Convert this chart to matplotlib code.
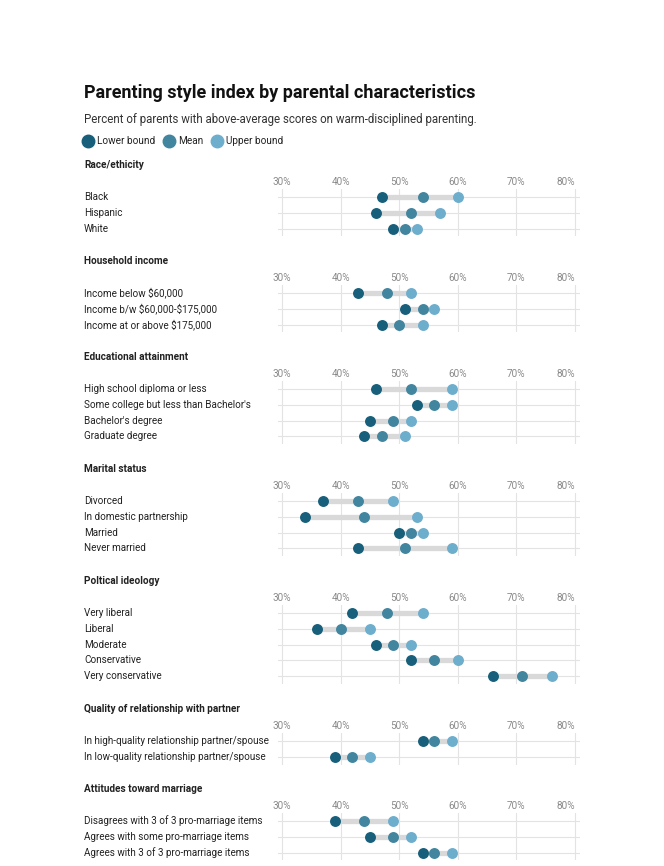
import matplotlib
matplotlib.use("Agg")
import matplotlib.pyplot as plt
import matplotlib.transforms as mtransforms
from matplotlib.lines import Line2D

plt.rcParams['font.family'] = ['Roboto', 'DejaVu Sans']

# ---- data (percent) ----
race_labels = ["Black", "Hispanic", "White"]
race_low = [47, 46, 49]
race_mean = [54, 52, 51]
race_high = [60, 57, 53]

income_labels = ["Income below $60,000", "Income b/w $60,000-$175,000",
                 "Income at or above $175,000"]
income_low = [43, 51, 47]
income_mean = [48, 54, 50]
income_high = [52, 56, 54]

edu_labels = ["High school diploma or less", "Some college but less than Bachelor's",
              "Bachelor's degree", "Graduate degree"]
edu_low = [46, 53, 45, 44]
edu_mean = [52, 56, 49, 47]
edu_high = [59, 59, 52, 51]

marital_labels = ["Divorced", "In domestic partnership", "Married", "Never married"]
marital_low = [37, 34, 50, 43]
marital_mean = [43, 44, 52, 51]
marital_high = [49, 53, 54, 59]

ideology_labels = ["Very liberal", "Liberal", "Moderate", "Conservative",
                   "Very conservative"]
ideology_low = [42, 36, 46, 52, 66]
ideology_mean = [48, 40, 49, 56, 71]
ideology_high = [54, 45, 52, 60, 76]

quality_labels = ["In high-quality relationship partner/spouse",
                  "In low-quality relationship partner/spouse"]
quality_low = [54, 39]
quality_mean = [56, 42]
quality_high = [59, 45]

attitude_labels = ["Disagrees with 3 of 3 pro-marriage items",
                   "Agrees with some pro-marriage items",
                   "Agrees with 3 of 3 pro-marriage items"]
attitude_low = [39, 45, 54]
attitude_mean = [44, 49, 56]
attitude_high = [49, 52, 59]

sections = [
    ("Race/ethicity", race_labels, race_low, race_mean, race_high),
    ("Household income", income_labels, income_low, income_mean, income_high),
    ("Educational attainment", edu_labels, edu_low, edu_mean, edu_high),
    ("Marital status", marital_labels, marital_low, marital_mean, marital_high),
    ("Poltical ideology", ideology_labels, ideology_low, ideology_mean, ideology_high),
    ("Quality of relationship with partner", quality_labels, quality_low,
     quality_mean, quality_high),
    ("Attitudes toward marriage", attitude_labels, attitude_low, attitude_mean,
     attitude_high),
]

xticks = [30, 40, 50, 60, 70, 80]
xtick_labels = ["30%", "40%", "50%", "60%", "70%", "80%"]

C_LOW = "#175f7a"
C_MEAN = "#41859f"
C_HIGH = "#6eaecd"
C_BAR = "#d9d9d9"
C_GRID = "#e3e3e3"
TXT = "#222222"

W, H = 664, 866
fig = plt.figure(figsize=(W / 100, H / 100), dpi=100)
fig.patch.set_facecolor("white")


def fx(px):
    return px / W


def fy(py):
    return 1 - py / H


LEFT = 84
fig.text(fx(LEFT), fy(93), "Parenting style index by parental characteristics",
         fontsize=13.0, fontweight="bold", color="#111111", va="center")
fig.text(fx(LEFT), fy(119),
         "Percent of parents with above-average scores on warm-disciplined parenting.",
         fontsize=8.3, color="#333333", va="center")

handles = [Line2D([], [], marker="o", ls="", ms=9, color=c, label=l)
           for c, l in [(C_LOW, "Lower bound"), (C_MEAN, "Mean"), (C_HIGH, "Upper bound")]]
fig.legend(handles=handles, loc="center left", bbox_to_anchor=(fx(83), fy(141)),
           ncol=3, frameon=False, fontsize=7.2, handlelength=0.9, handletextpad=0.5,
           columnspacing=0.9, borderaxespad=0, borderpad=0, labelcolor=TXT)

PITCH = 15.75
AX_L, AX_R = 278, 580
PX_PER = (575 - 282) / 50.0
xmin = 30 - (282 - AX_L) / PX_PER
xmax = 80 + (AX_R - 575) / PX_PER

header_y = 165
for title, labels, low, mean, high in sections:
    n = len(labels)
    fig.text(fx(LEFT), fy(header_y), title, fontsize=7.2, fontweight="bold",
             color=TXT, va="center")
    first = header_y + 32
    top = first - PITCH / 2
    bottom = first + (n - 1) * PITCH + PITCH / 2
    ax = fig.add_axes([fx(AX_L), fy(bottom), (AX_R - AX_L) / W, (bottom - top) / H])
    ax.set_xlim(xmin, xmax)
    ax.set_ylim(n - 0.5, -0.5)
    ys = list(range(n))
    ax.hlines(ys, low, high, color=C_BAR, lw=3.8, zorder=2)
    ax.scatter(low, ys, s=62, color=C_LOW, zorder=3, linewidths=0)
    ax.scatter(mean, ys, s=62, color=C_MEAN, zorder=3, linewidths=0)
    ax.scatter(high, ys, s=62, color=C_HIGH, zorder=3, linewidths=0)

    ax.set_yticks(ys)
    ax.set_yticklabels([])
    ax.set_xticks(xticks)
    ax.set_xticklabels(xtick_labels)
    ax.xaxis.tick_top()
    ax.tick_params(axis="x", length=0, pad=1.8, labelsize=7.2, labelcolor="#8a8a8a")
    ax.tick_params(axis="y", length=0)
    ax.get_xticklabels()[-1].set_ha("right")
    ax.grid(True, color=C_GRID, lw=0.8, zorder=0)
    ax.set_axisbelow(True)
    for s in ax.spines.values():
        s.set_visible(False)
    ax.patch.set_alpha(0)

    trans = mtransforms.blended_transform_factory(fig.transFigure, ax.transData)
    for i, lab in enumerate(labels):
        ax.text(fx(LEFT), i, lab, transform=trans, fontsize=7.1, color=TXT,
                va="center", ha="left", clip_on=False, parse_math=False)

    header_y = header_y + 48 + 16 * n

fig.savefig("out.png", dpi=100, facecolor="white")
